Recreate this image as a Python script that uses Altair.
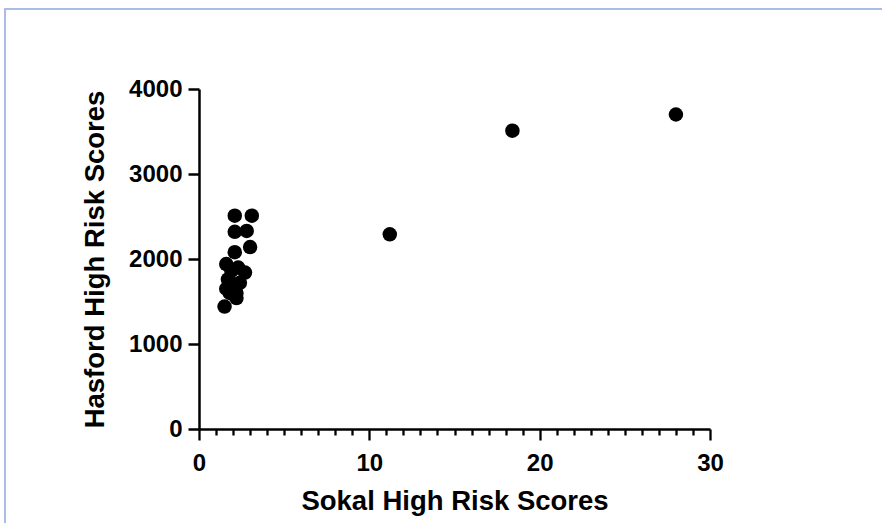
import altair as alt
import pandas as pd

sokal = [1.5, 2.1, 3.1, 2.1, 2.8, 3.0, 2.1, 1.6, 2.3, 2.7, 1.9, 1.7, 2.0, 2.4, 1.6, 2.2, 1.8, 2.2, 11.2, 18.4, 28.0]
hasford = [1440, 2510, 2510, 2320, 2330, 2140, 2080, 1940, 1900, 1840, 1860, 1760, 1700, 1720, 1650, 1600, 1600, 1540, 2290, 3510, 3700]

x_ticks = list(range(0, 31))
y_major = [0, 1000, 2000, 3000, 4000]

df = pd.DataFrame({"Sokal": sokal, "Hasford": hasford})

FONT = "Liberation Sans"

xs = alt.Scale(domain=[0, 30], nice=False)
ys = alt.Scale(domain=[0, 4000], nice=False)

points = alt.Chart(df).mark_circle(size=210, color="black", opacity=1).encode(
    x=alt.X("Sokal:Q", scale=xs, title="Sokal High Risk Scores",
            axis=alt.Axis(values=x_ticks, orient="bottom",
                          tickSize=alt.ExprRef("datum.value % 10 === 0 ? 11 : 6"),
                          tickWidth=2.3, format="d",
                          labelExpr="datum.value % 10 === 0 ? datum.label : ''",
                          labelOverlap=False, labelFlush=False,
                          domainWidth=2.5, domainColor="black", tickColor="black",
                          labelFont=FONT, labelFontSize=24, labelFontWeight="bold",
                          labelColor="black", labelPadding=11, grid=False,
                          titleFont=FONT, titleFontSize=27.5, titleFontWeight="bold",
                          titleColor="black", titlePadding=12)),
    y=alt.Y("Hasford:Q", scale=ys, title="Hasford High Risk Scores",
            axis=alt.Axis(values=y_major, tickSize=11, tickWidth=2.5, format="d",
                          labelFlush=False,
                          domainWidth=2.5, domainColor="black", tickColor="black",
                          labelFont=FONT, labelFontSize=24, labelFontWeight="bold",
                          labelColor="black", labelPadding=6, grid=False,
                          titleFont=FONT, titleFontSize=27.5, titleFontWeight="bold",
                          titleColor="black", titlePadding=19)),
)

frame_top = alt.Chart(pd.DataFrame({"a": [0]})).mark_rule(color="#a9bde6", strokeWidth=2).encode(
    x=alt.value(-195), x2=alt.value(683), y=alt.value(-80))
frame_left = alt.Chart(pd.DataFrame({"a": [0]})).mark_rule(color="#a9bde6", strokeWidth=2).encode(
    x=alt.value(-194), y=alt.value(-80), y2=alt.value(434))

chart = alt.layer(frame_top, frame_left, points).properties(
    width=511, height=340,
    autosize=alt.AutoSizeParams(type="none"),
    padding={"left": 199, "top": 89, "right": 172, "bottom": 94},
    background="white",
).configure_view(stroke=None)

chart.save("out.html", embed_options={"renderer": "svg", "actions": False})
